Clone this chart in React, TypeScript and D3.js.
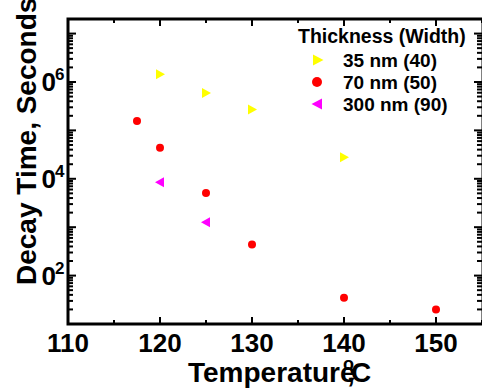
import React, { useEffect, useRef } from 'react';
import * as d3 from 'd3';

// thickness (width) series, temperature in C, decay time in seconds
const temps35 = [120, 125, 130, 140];
const decay35 = [1.44e6, 5.9e5, 2.7e5, 2.8e4];
const temps70 = [117.5, 120, 125, 130, 140, 150];
const decay70 = [1.56e5, 4.4e4, 5.1e3, 4.4e2, 35, 20];
const temps300 = [120, 125];
const decay300 = [8.5e3, 1.26e3];

const seriesNames = ['35 nm (40)', '70 nm (50)', '300 nm (90)'];
const xTickLabels = [110, 120, 130, 140, 150];
const yLabelExps = [2, 4, 6];

const W = 482;
const H = 392;
const FONT = '"Liberation Sans", Arial, sans-serif';

export default function App() {
  const ref = useRef<SVGSVGElement>(null);

  useEffect(() => {
    const svg = d3.select(ref.current);
    svg.selectAll('*').remove();

    const left = 68, right = 482, top = 19, bottom = 324;
    const x = d3.scaleLinear().domain([110, 155]).range([left, right]);
    const y = d3.scaleLog().domain([10, 2e7]).range([bottom, top]);

    // clip for the y labels (leading "1" is cut off in the original)
    svg.append('defs').append('clipPath').attr('id', 'ylab')
      .append('rect').attr('x', 42).attr('y', 0).attr('width', 30).attr('height', H);

    const axes = svg.append('g').attr('stroke', '#000').attr('stroke-width', 2);

    // x ticks, bottom and top, pointing in
    d3.range(110, 156, 5).forEach((v) => {
      const len = v % 10 === 0 ? 7 : 4;
      axes.append('line').attr('x1', x(v)).attr('x2', x(v)).attr('y1', bottom).attr('y2', bottom - len);
      axes.append('line').attr('x1', x(v)).attr('x2', x(v)).attr('y1', top).attr('y2', top + len);
    });

    // y ticks, log minor
    const yt = y.ticks();
    yt.forEach((v) => {
      const major = Math.abs(Math.log10(v) - Math.round(Math.log10(v))) < 1e-9;
      const len = major ? 8 : 5;
      axes.append('line').attr('x1', left).attr('x2', left + len).attr('y1', y(v)).attr('y2', y(v));
      axes.append('line').attr('x1', right).attr('x2', right - len).attr('y1', y(v)).attr('y2', y(v));
    });

    svg.append('rect')
      .attr('x', left).attr('y', top)
      .attr('width', right - left + 1).attr('height', bottom - top)
      .attr('fill', 'none').attr('stroke', '#000').attr('stroke-width', 3);

    const txt = svg.append('g').attr('font-family', FONT).attr('font-weight', 'bold').attr('fill', '#000');

    txt.selectAll('.xl').data(xTickLabels).enter().append('text')
      .attr('x', (d) => x(d)).attr('y', 352)
      .attr('text-anchor', 'middle').attr('font-size', 26)
      .text((d) => d);

    const yl = txt.append('g').attr('clip-path', 'url(#ylab)');
    yLabelExps.forEach((e) => {
      const yy = y(Math.pow(10, e));
      yl.append('text').attr('x', 56).attr('y', yy + 9).attr('text-anchor', 'end')
        .attr('font-size', 26).text('10');
      yl.append('text').attr('x', 55).attr('y', yy - 2)
        .attr('font-size', 17).text(e);
    });

    // axis titles
    txt.append('text')
      .attr('transform', 'translate(36,285) rotate(-90)')
      .attr('font-size', 28)
      .text('Decay Time, Seconds');

    txt.append('text').attr('x', 188).attr('y', 382).attr('font-size', 28).text('Temperature');
    txt.append('text').attr('x', 347).attr('y', 382).attr('font-size', 28).text(',');
    txt.append('text').attr('x', 343).attr('y', 370).attr('font-size', 18).text('o');
    txt.append('text').attr('x', 351).attr('y', 382).attr('font-size', 28).text('C');

    const triR = 'M-4,-5L5,0L-4,5Z';
    const triL = 'M4,-5L-5,0L4,5Z';
    const pts = svg.append('g');

    pts.selectAll('.s35').data(temps35).enter().append('path')
      .attr('d', triR).attr('fill', '#ffff00')
      .attr('transform', (d, i) => `translate(${x(d)},${y(decay35[i])})`);
    pts.selectAll('.s70').data(temps70).enter().append('circle')
      .attr('r', 4).attr('fill', '#ff0000')
      .attr('cx', (d) => x(d)).attr('cy', (d, i) => y(decay70[i]));
    pts.selectAll('.s300').data(temps300).enter().append('path')
      .attr('d', triL).attr('fill', '#ff00ff')
      .attr('transform', (d, i) => `translate(${x(d)},${y(decay300[i])})`);

    // legend
    const lg = svg.append('g');
    lg.append('text').attr('x', 298).attr('y', 43)
      .attr('font-family', FONT).attr('font-weight', 'bold').attr('font-size', 19.5)
      .text('Thickness (Width)');
    seriesNames.forEach((name, i) => {
      const yy = 60 + i * 22;
      if (i === 0) lg.append('path').attr('d', 'M-5,-5.5L5.5,0L-5,5.5Z').attr('fill', '#ffff00').attr('transform', `translate(318,${yy})`);
      if (i === 1) lg.append('circle').attr('r', 5).attr('cx', 317).attr('cy', yy).attr('fill', '#ff0000');
      if (i === 2) lg.append('path').attr('d', 'M5,-5.5L-5.5,0L5,5.5Z').attr('fill', '#ff00ff').attr('transform', `translate(317,${yy})`);
      lg.append('text').attr('x', 343).attr('y', yy + 7)
        .attr('font-family', FONT).attr('font-weight', 'bold').attr('font-size', 19)
        .text(name);
    });
  }, []);

  return (
    <svg ref={ref} width={W} height={H}
      style={{ position: 'absolute', left: 0, top: 0, background: '#fff' }} />
  );
}
